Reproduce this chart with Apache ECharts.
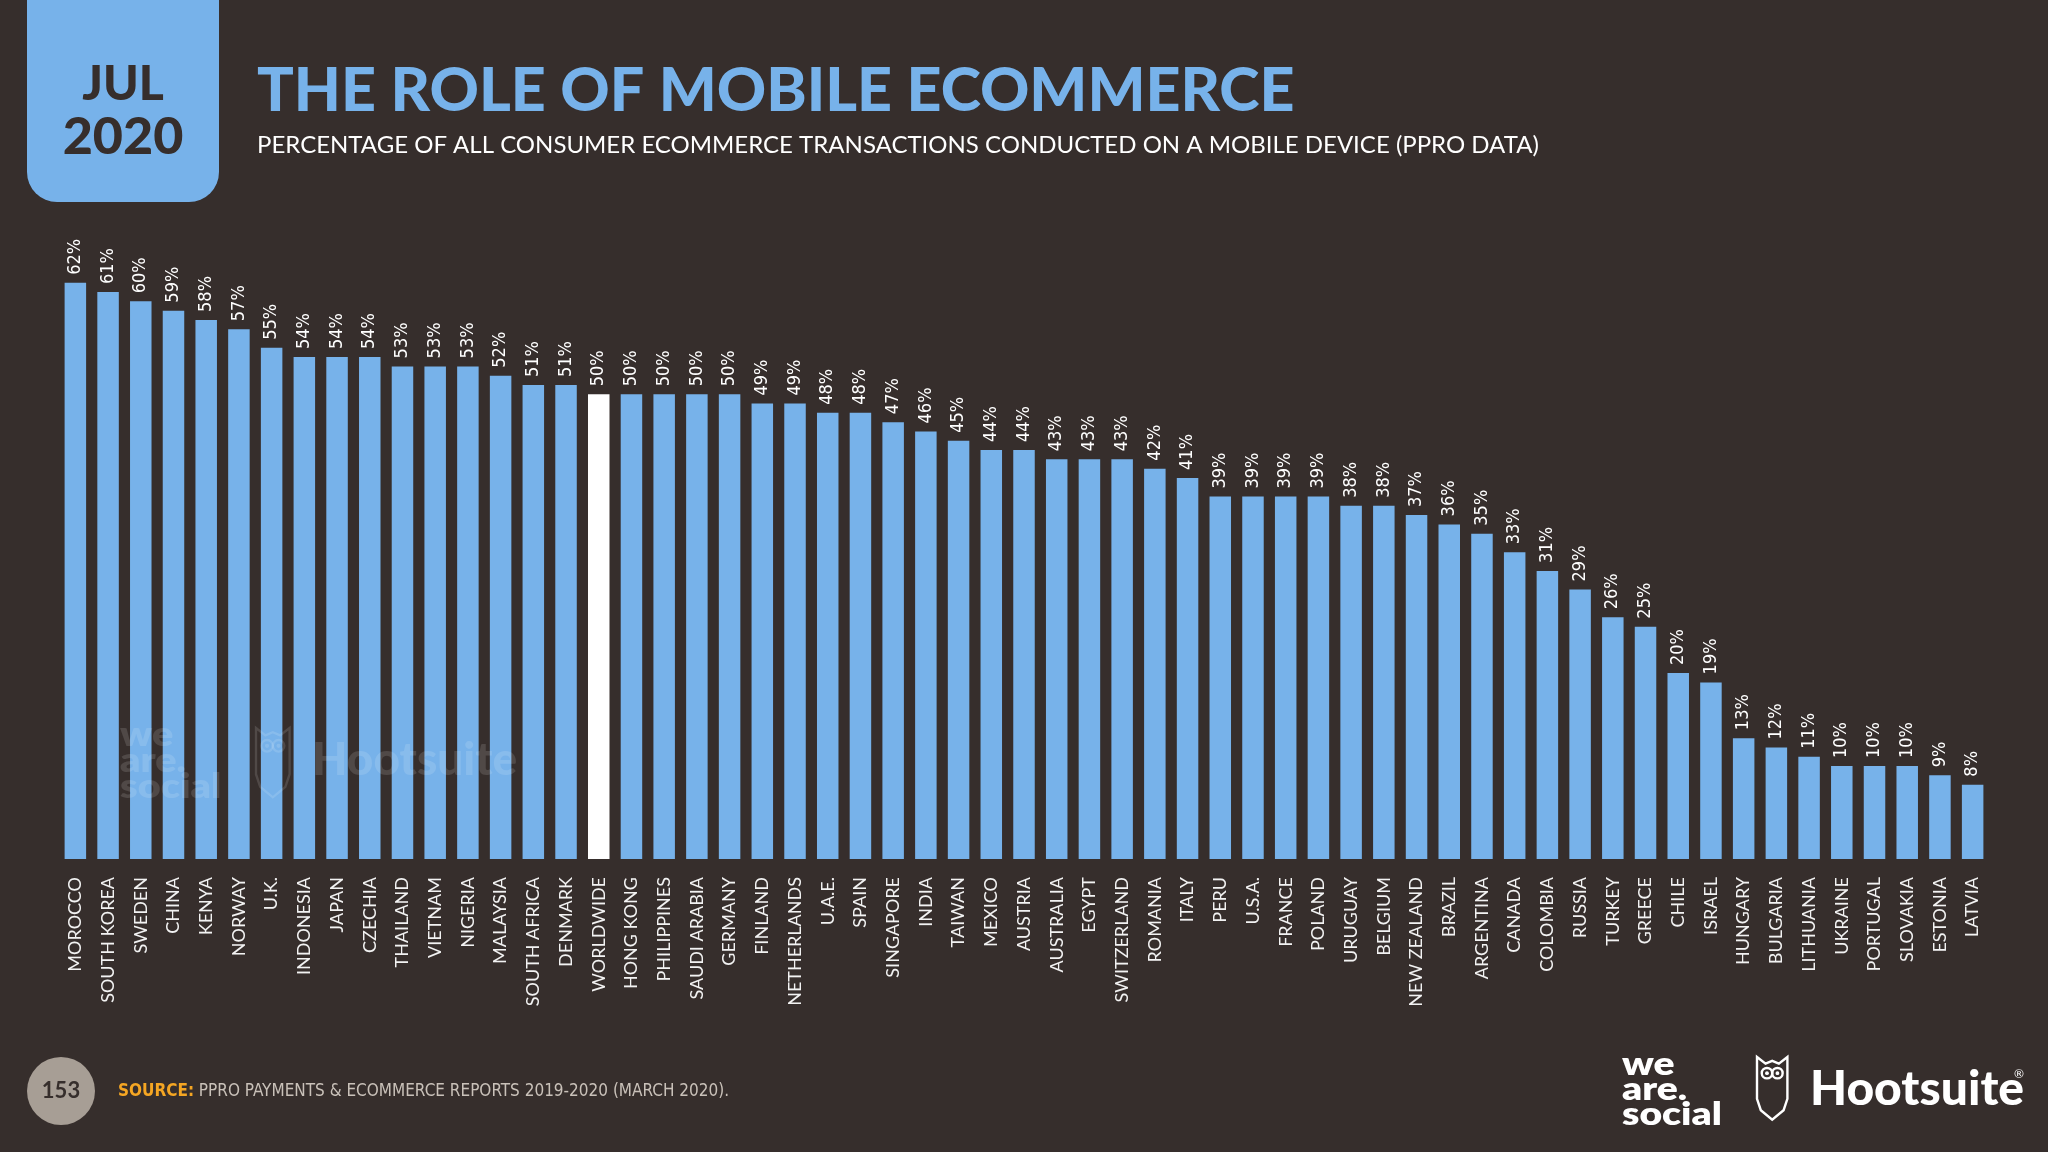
<!DOCTYPE html>
<html><head><meta charset="utf-8">
<script src="https://cdn.jsdelivr.net/npm/echarts@6/dist/echarts.min.js"></script>
<style>html,body{margin:0;padding:0;background:#362E2C;overflow:hidden}#c{width:2048px;height:1152px;}</style>
</head><body><div id="c"></div>
<script>
const categories = ["MOROCCO","SOUTH KOREA","SWEDEN","CHINA","KENYA","NORWAY","U.K.","INDONESIA","JAPAN","CZECHIA","THAILAND","VIETNAM","NIGERIA","MALAYSIA","SOUTH AFRICA","DENMARK","WORLDWIDE","HONG KONG","PHILIPPINES","SAUDI ARABIA","GERMANY","FINLAND","NETHERLANDS","U.A.E.","SPAIN","SINGAPORE","INDIA","TAIWAN","MEXICO","AUSTRIA","AUSTRALIA","EGYPT","SWITZERLAND","ROMANIA","ITALY","PERU","U.S.A.","FRANCE","POLAND","URUGUAY","BELGIUM","NEW ZEALAND","BRAZIL","ARGENTINA","CANADA","COLOMBIA","RUSSIA","TURKEY","GREECE","CHILE","ISRAEL","HUNGARY","BULGARIA","LITHUANIA","UKRAINE","PORTUGAL","SLOVAKIA","ESTONIA","LATVIA"];
const values = [62,61,60,59,58,57,55,54,54,54,53,53,53,52,51,51,50,50,50,50,50,49,49,48,48,47,46,45,44,44,43,43,43,42,41,39,39,39,39,38,38,37,36,35,33,31,29,26,25,20,19,13,12,11,10,10,10,9,8];
const highlightCategory = "WORLDWIDE";
const titleText = "THE ROLE OF MOBILE ECOMMERCE";
const subtitleText = "PERCENTAGE OF ALL CONSUMER ECOMMERCE TRANSACTIONS CONDUCTED ON A MOBILE DEVICE (PPRO DATA)";
const dateMonth = "JUL";
const dateYear = "2020";
const pageNumber = "153";
const sourceLabel = "SOURCE:";
const sourceText = " PPRO PAYMENTS & ECOMMERCE REPORTS 2019-2020 (MARCH 2020).";

const BG = '#362E2C';
const BLUE = '#77B2EA';
const narrow = '"Liberation Sans Narrow","DejaVu Sans Condensed","Roboto",sans-serif';

const chart = echarts.init(document.getElementById('c'), null, {renderer: 'canvas'});

const seriesData = categories.map((c, i) => ({
  value: values[i],
  itemStyle: {color: c === highlightCategory ? '#FFFFFF' : BLUE}
}));

function owl(x, y, s, color, z) {
  const pts = [[0,0],[9,7],[16,4],[23,7],[32,0],[32,44],[28,56],[16,66],[4,56],[0,44]]
    .map(p => [x + p[0] * s, y + p[1] * s]);
  return [
    {type: 'polygon', shape: {points: pts}, style: {fill: 'none', stroke: color, lineWidth: 2.4}, z: z},
    {type: 'circle', shape: {cx: x + 10.5 * s, cy: y + 17 * s, r: 5.5 * s}, style: {fill: 'none', stroke: color, lineWidth: 2.4}, z: z},
    {type: 'circle', shape: {cx: x + 21.5 * s, cy: y + 17 * s, r: 5.5 * s}, style: {fill: 'none', stroke: color, lineWidth: 2.4}, z: z},
    {type: 'circle', shape: {cx: x + 10.5 * s, cy: y + 17 * s, r: 2 * s}, style: {fill: color}, z: z},
    {type: 'circle', shape: {cx: x + 21.5 * s, cy: y + 17 * s, r: 2 * s}, style: {fill: color}, z: z}
  ];
}

const wm = 'rgba(255,255,255,0.13)';

const graphics = [
  {type: 'rect', shape: {x: 27, y: -40, width: 192, height: 242, r: [0, 0, 30, 30]}, style: {fill: BLUE}, z: 10},
  {type: 'text', x: 123, y: 85, style: {text: dateMonth, fill: BG, font: '900 48px Lato, sans-serif', textAlign: 'center', textVerticalAlign: 'middle'}, z: 11},
  {type: 'text', x: 123, y: 137, style: {text: dateYear, fill: BG, font: '900 52px Lato, sans-serif', textAlign: 'center', textVerticalAlign: 'middle'}, z: 11},
  {type: 'text', x: 257, y: 91, style: {text: titleText, fill: BLUE, font: '900 61px Lato, sans-serif', textAlign: 'left', textVerticalAlign: 'middle'}, z: 11},
  {type: 'text', x: 257, y: 145, style: {text: subtitleText, fill: '#FFFFFF', font: '400 24px Lato, sans-serif', textAlign: 'left', textVerticalAlign: 'middle'}, z: 11},

  {type: 'text', x: 120, y: 722, scaleX: 1.2, style: {text: 'we\nare.\nsocial', fill: wm, font: '800 33px Lato, sans-serif', lineHeight: 26, textAlign: 'left', textVerticalAlign: 'top'}, z: 100},
  ...owl(256, 728, 1.05, wm, 100),
  {type: 'text', x: 312, y: 760, style: {text: 'Hootsuite', fill: wm, font: '900 46px Lato, sans-serif', textAlign: 'left', textVerticalAlign: 'middle'}, z: 100},

  {type: 'circle', shape: {cx: 61, cy: 1091, r: 34}, style: {fill: '#A79E95'}, z: 10},
  {type: 'text', x: 61, y: 1091, style: {text: pageNumber, fill: '#362E2C', font: '700 22px Lato, sans-serif', textAlign: 'center', textVerticalAlign: 'middle'}, z: 11},
  {type: 'text', x: 118, y: 1092, style: {
    text: '{a|' + sourceLabel + '}{b|' + sourceText + '}', textVerticalAlign: 'middle', textAlign: 'left',
    rich: {
      a: {fill: '#F5A623', fontWeight: 700, fontSize: 17, fontFamily: narrow},
      b: {fill: '#C9C1B9', fontWeight: 400, fontSize: 17, fontFamily: narrow}
    }
  }, z: 11},
  {type: 'text', x: 1622, y: 1052, scaleX: 1.22, style: {text: 'we\nare.\nsocial', fill: '#FFFFFF', font: '800 32px Lato, sans-serif', lineHeight: 25, textAlign: 'left', textVerticalAlign: 'top'}, z: 11},
  ...owl(1757, 1057, 0.95, '#FFFFFF', 11),
  {type: 'text', x: 1810, y: 1090, style: {text: 'Hootsuite', fill: '#FFFFFF', font: '900 48px Lato, sans-serif', textAlign: 'left', textVerticalAlign: 'middle'}, z: 11},
  {type: 'text', x: 2014, y: 1074, style: {text: '®', fill: '#FFFFFF', font: '400 12px Lato, sans-serif', textAlign: 'left', textVerticalAlign: 'middle'}, z: 11}
];

const option = {
  backgroundColor: BG,
  animation: false,
  grid: {left: 59, right: 59, top: 208.4, bottom: 293, containLabel: false},
  xAxis: {
    type: 'category',
    data: categories,
    axisLine: {show: false},
    axisTick: {show: false},
    axisLabel: {
      interval: 0, rotate: 90, margin: 18,
      color: '#F2F2F2', fontSize: 18, fontFamily: 'Lato, "Noto Sans", sans-serif'
    }
  },
  yAxis: {
    type: 'value', min: 0, max: 70, show: false,
    splitLine: {show: false}
  },
  series: [{
    type: 'bar',
    data: seriesData,
    barWidth: 21.5,
    label: {
      show: true, position: 'top', rotate: 90, align: 'left', verticalAlign: 'middle',
      distance: 8, color: '#FFFFFF', fontSize: 18, fontFamily: narrow,
      formatter: p => p.value + '%'
    }
  }],
  graphic: graphics
};
chart.setOption(option);
</script></body></html>
